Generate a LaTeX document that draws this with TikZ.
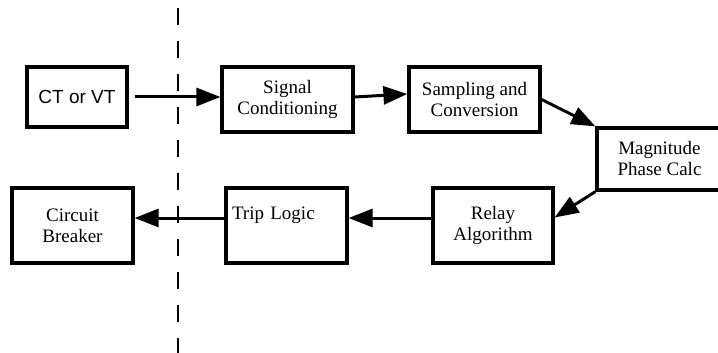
\documentclass[tikz,border=0pt]{standalone}
\usepackage{fontspec}
\setmainfont{Liberation Serif}
\newfontfamily\ctvtfont{Liberation Sans}
\usetikzlibrary{positioning,arrows.meta}

\begin{document}
\begin{tikzpicture}[x=1pt, y=-1pt,
		blk/.style={draw, line width=3.2pt, align=center, inner sep=0pt, font=\fontsize{19}{21}\selectfont},
		flow/.style={line width=3pt, -{Triangle[length=24pt,width=18pt]}}]
			\clip (0,0) rectangle (718,353);
			\coordinate (divtop) at (178,8);
			\coordinate (divbot) at (178,353);
			\draw [line width=1.3pt, dash pattern=on 17pt off 16pt] (divtop) -- (divbot);
			\node [blk, minimum width=100pt, minimum height=60pt] (ctvt) at (77,97) {\ctvtfont CT or VT};
			\node [blk, minimum width=131pt, minimum height=65pt] (sig) at (287.5,99.5) {Signal\\Conditioning};
			\node [blk, minimum width=131pt, minimum height=65pt] (samp) at (474.5,99.5) {Sampling and\\Conversion};
			\node [blk, minimum width=125pt, minimum height=62pt] (mag) at (659.5,159) {Magnitude\\Phase Calc};
			\node [blk, minimum width=120pt, minimum height=75pt] (relay) at (493,225.5) {Relay\\Algorithm};
			\node [blk, align=left, text width=109pt, inner xsep=6pt, inner ysep=5pt, text height=26pt, text depth=39pt] (trip) at (286.5,225.5) {Trip Logic};
			\node [blk, minimum width=121pt, minimum height=75pt] (cb) at (72.5,225.5) {Circuit\\Breaker};
			\draw [flow, shorten <=6pt] (ctvt.east) -- (ctvt.east -| sig.west);
			\draw [flow] ([yshift=2.5pt]sig.east) -- ([yshift=5.5pt]samp.west);
			\draw [flow] (samp.east) -- (mag.north west);
			\draw [flow] (mag.south west) -- ([yshift=8pt]relay.east);
			\draw [flow] ([yshift=7.5pt]relay.west) -- ([yshift=7.5pt]trip.east);
			\draw [flow] ([yshift=7.5pt]trip.west) -- ([yshift=7.5pt]cb.east);
		\end{tikzpicture}
\end{document}
